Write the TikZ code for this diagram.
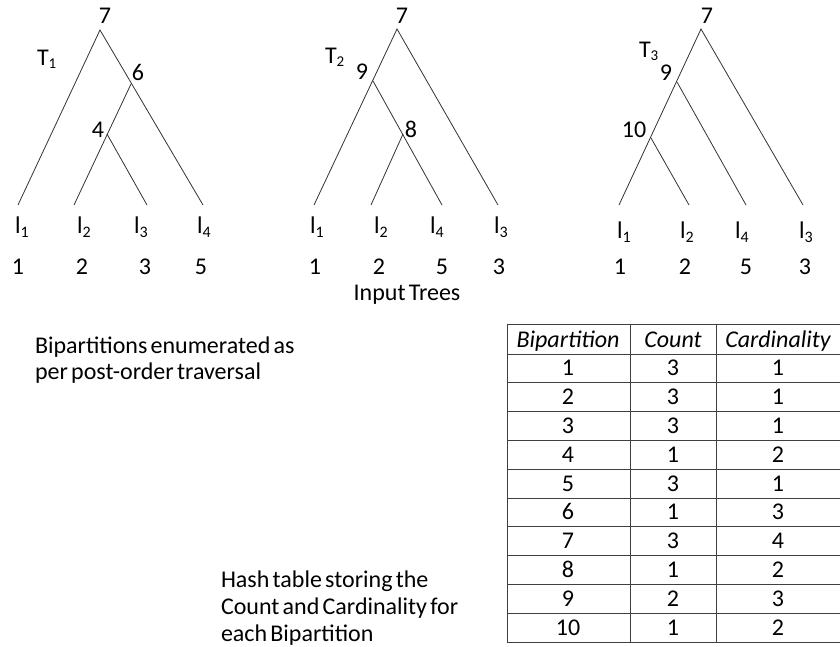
\documentclass[tikz,border=0pt]{standalone}
\usepackage{fontspec}
\setmainfont{Carlito}[WordSpace=0.6]
\begin{document}
\begin{tikzpicture}[x=1pt,y=-1pt,
  every node/.style={inner sep=0pt, outer sep=0pt},
  txt/.style={font=\fontsize{24}{28}\selectfont, anchor=base},
  note/.style={font=\fontsize{24}{28}\selectfont, anchor=base west},
  leaf/.style={font=\fontsize{24}{28}\selectfont, anchor=base west},
  head/.style={font=\fontsize{24}{28}\selectfont\itshape, anchor=base},
  branch/.style={draw=black!80, line width=0.8pt},
  grid/.style={draw=black!75, line width=0.9pt}]
\useasboundingbox (0,0) rectangle (840,646);
\fill[white] (0,0) rectangle (840,646);

\newcommand{\lf}[1]{l\raisebox{-0.17em}{\fontsize{16}{16}\selectfont #1}}
\newcommand{\tn}[1]{T\raisebox{-0.15em}{\fontsize{15}{15}\selectfont #1}}

% ---- tree T1 ----
\coordinate (a7) at (100,30);
\coordinate (a6) at (131,84);
\coordinate (a4) at (107,134);
\coordinate (a1) at (18,205);
\coordinate (a2) at (74,205);
\coordinate (a3) at (147,205);
\coordinate (a5) at (203,205);
\draw[branch] (a1) -- (a7) -- (a5);
\draw[branch] (a6) -- (a2);
\draw[branch] (a4) -- (a3);
\node[txt] (a7t) at (105,23) {7};
\node[txt] (a6t) at (138,80) {6};
\node[txt] (a4t) at (98,137) {4};
\node[note] (t1) at (37,65) {\tn{1}};
\node[leaf] (a1l) at (15,233) {\lf{1}};
\node[leaf] (a2l) at (77,233) {\lf{2}};
\node[leaf] (a3l) at (134,233) {\lf{3}};
\node[leaf] (a5l) at (197,233) {\lf{4}};
\node[txt] (a1n) at (18,274) {1};
\node[txt] (a2n) at (82,274) {2};
\node[txt] (a3n) at (145,274) {3};
\node[txt] (a5n) at (201,274) {5};

% ---- tree T2 ----
\coordinate (b7) at (397,29);
\coordinate (b9) at (373,81);
\coordinate (b8) at (403,134);
\coordinate (b1) at (314,205);
\coordinate (b2) at (371,205);
\coordinate (b5) at (442,205);
\coordinate (b3) at (498,205);
\draw[branch] (b1) -- (b7) -- (b3);
\draw[branch] (b9) -- (b5);
\draw[branch] (b8) -- (b2);
\node[txt] (b7t) at (402,23) {7};
\node[txt] (b9t) at (362,79) {9};
\node[txt] (b8t) at (411,137) {8};
\node[note] (t2) at (325,63) {\tn{2}};
\node[leaf] (b1l) at (310,233) {\lf{1}};
\node[leaf] (b2l) at (374,233) {\lf{2}};
\node[leaf] (b5l) at (430,233) {\lf{4}};
\node[leaf] (b3l) at (494,233) {\lf{3}};
\node[txt] (b1n) at (315,274) {1};
\node[txt] (b2n) at (379,274) {2};
\node[txt] (b5n) at (442,274) {5};
\node[txt] (b3n) at (499,274) {3};

% ---- tree T3 ----
\coordinate (c7) at (701,29);
\coordinate (c9) at (677,82);
\coordinate (c10) at (651,138);
\coordinate (c1) at (619,205);
\coordinate (c2) at (689,205);
\coordinate (c5) at (746,205);
\coordinate (c3) at (803,205);
\draw[branch] (c1) -- (c7) -- (c3);
\draw[branch] (c9) -- (c5);
\draw[branch] (c10) -- (c2);
\node[txt] (c7t) at (707,23) {7};
\node[txt] (c9t) at (666,80) {9};
\node[txt] (c10t) at (634,137) {10};
\node[note] (t3) at (639,57) {\tn{3}};
\node[leaf] (c1l) at (617,238) {\lf{1}};
\node[leaf] (c2l) at (680,238) {\lf{2}};
\node[leaf] (c5l) at (735,238) {\lf{4}};
\node[leaf] (c3l) at (799,238) {\lf{3}};
\node[txt] (c1n) at (620,274) {1};
\node[txt] (c2n) at (685,274) {2};
\node[txt] (c5n) at (746,274) {5};
\node[txt] (c3n) at (805,274) {3};

\node[txt] (caption) at (407,300) {Input Trees};

% ---- notes ----
\node[note] (note1) at (35,353) {Bipartitions enumerated as};
\node[note] (note2) at (35,379) {per post-order traversal};
\node[note] (hash1) at (221,587) {Hash table storing the};
\node[note] (hash2) at (221,614) {Count and Cardinality for};
\node[note] (hash3) at (221,641) {each Bipartition};

% ---- hash table ----
\def\rowh{28.8}
\draw[grid] (507,324) -- (840,324);
\foreach \k in {0,...,10} {
  \draw[grid] (507,{354+\k*\rowh}) -- (840,{354+\k*\rowh});
}
\draw[grid] (507,324) -- (507,642);
\draw[grid] (630,324) -- (630,642);
\draw[grid] (716,324) -- (716,642);
\node[head] (h1) at (568,347) {Bipartition};
\node[head] (h2) at (673,347) {Count};
\node[head] (h3) at (778,347) {Cardinality};
\foreach \b/\c/\d [count=\i from 0] in {1/3/1,2/3/1,3/3/1,4/1/2,5/3/1,6/1/3,7/3/4,8/1/2,9/2/3,10/1/2} {
  \node[txt] (r\i a) at (568,{354+(\i+0.5)*\rowh+7.5}) {\b};
  \node[txt] (r\i b) at (673,{354+(\i+0.5)*\rowh+7.5}) {\c};
  \node[txt] (r\i c) at (778,{354+(\i+0.5)*\rowh+7.5}) {\d};
}
\end{tikzpicture}
\end{document}
